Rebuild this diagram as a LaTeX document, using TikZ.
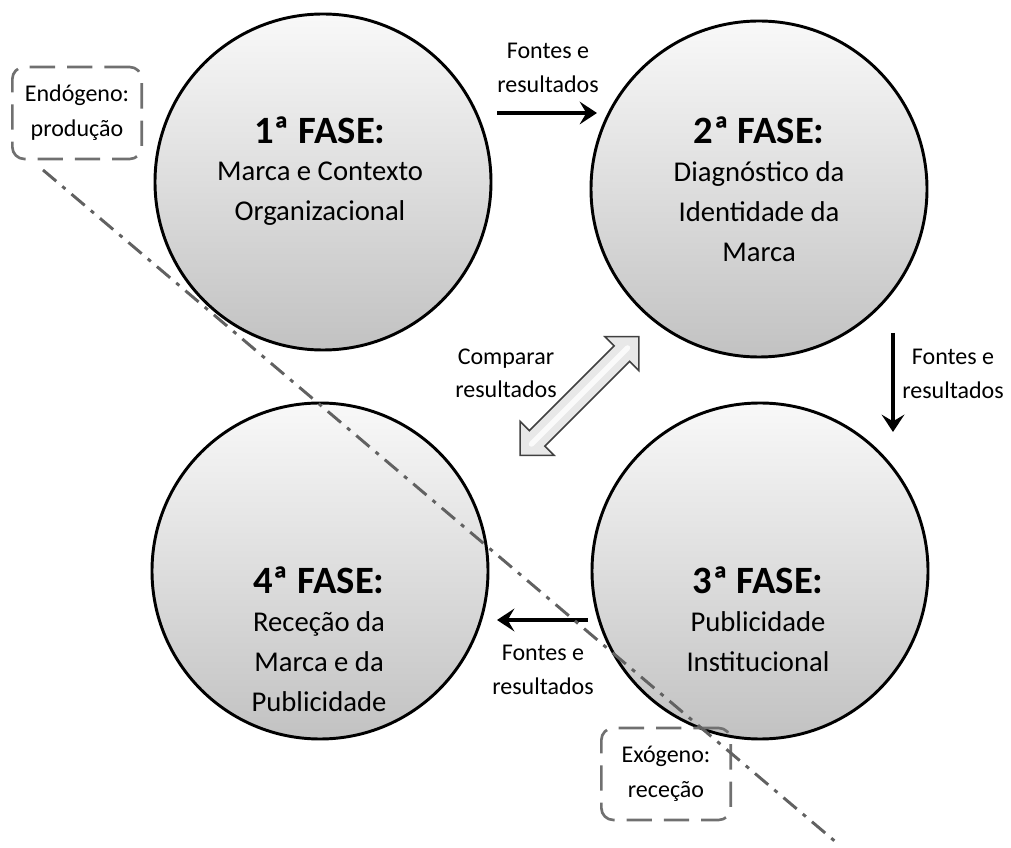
\documentclass[tikz,border=0pt]{standalone}
\usepackage{fontspec}
\setmainfont{Carlito}
\usetikzlibrary{arrows.meta}
\begin{document}
\begin{tikzpicture}[x=0.75pt,y=-0.75pt,
  phase/.style={circle,draw=black,line width=2.2pt,minimum size=252pt,inner sep=0pt,
    top color=gray!5,middle color=gray!14,bottom color=gray!48},
  head/.style={font=\fontsize{29}{30}\selectfont\bfseries,inner sep=0pt},
  body/.style={align=center,anchor=base,font=\fontsize{21.5}{30}\selectfont,inner sep=0pt},
  lbl/.style={align=center,font=\fontsize{18}{25}\selectfont,inner sep=0pt},
  flow/.style={line width=3pt,-{Stealth[length=13pt,width=17pt,inset=5pt]}},
  zone/.style={draw=black!56,line width=2pt,rounded corners=9pt,dash pattern=on 19pt off 9pt,
    minimum width=97pt,minimum height=69pt,align=center,font=\fontsize{18}{26}\selectfont,inner sep=0pt},
  divider/.style={draw=black!62,line width=2.2pt,dash pattern=on 13pt off 6pt on 3pt off 6pt},
  dbl/.style={draw=black!75,line width=1.2pt,fill=gray!18,line join=miter}
]
\useasboundingbox (0,0) rectangle (1011,848);

% circles
\node[phase] (p1) at (323,182) {};
\node[phase] (p2) at (759,189) {};
\node[phase] (p3) at (760,571) {};
\node[phase] (p4) at (320,571) {};

% circle texts (base = baseline of last line)
\node[head] (h1) at (320,130) {1ª FASE:};
\node[body] (b1) at (320,221) {Marca e Contexto\\Organizacional};
\node[head] (h2) at (759,130) {2ª FASE:};
\node[body] (b2) at (759,262) {Diagnóstico da\\Identidade da\\Marca};
\node[head] (h3) at (758,580) {3ª FASE:};
\node[body] (b3) at (758,671) {Publicidade\\Institucional};
\node[head] (h4) at (319,580) {4ª FASE:};
\node[body] (b4) at (319,711) {Receção da\\Marca e da\\Publicidade};

% flow arrows
\coordinate (a1s) at (497,113);
\coordinate (a1e) at (597,113);
\coordinate (a2s) at (893,333);
\coordinate (a2e) at (893,432);
\coordinate (a3s) at (588,620);
\coordinate (a3e) at (497,620);
\draw[flow] (a1s) -- (a1e);
\draw[flow] (a2s) -- (a2e);
\draw[flow] (a3s) -- (a3e);

\node[lbl] (l1) at (548,68) {Fontes e\\resultados};
\node[lbl] (l2) at (953,374) {Fontes e\\resultados};
\node[lbl] (l3) at (543,670) {Fontes e\\resultados};
\node[lbl] (l4) at (506,373) {Comparar\\resultados};

% double block arrow
\begin{scope}[shift={(579.5,396)},rotate=45]
  \path[dbl] (-84,0) -- (-60,-24) -- (-60,-11) -- (60,-11) -- (60,-24) -- (84,0)
     -- (60,24) -- (60,11) -- (-60,11) -- (-60,24) -- cycle;
  \draw[white,line width=4pt,line cap=round,opacity=0.8] (-68,0) -- (68,0);
\end{scope}

% zones
\node[zone] (z1) at (77,113) {Endógeno:\\produção};
\node[zone] (z2) at (666,774) {Exógeno:\\receção};

% divider line
\coordinate (d1) at (43,170);
\coordinate (d2) at (837,843);
\draw[divider] (d1) -- (d2);
\end{tikzpicture}
\end{document}
